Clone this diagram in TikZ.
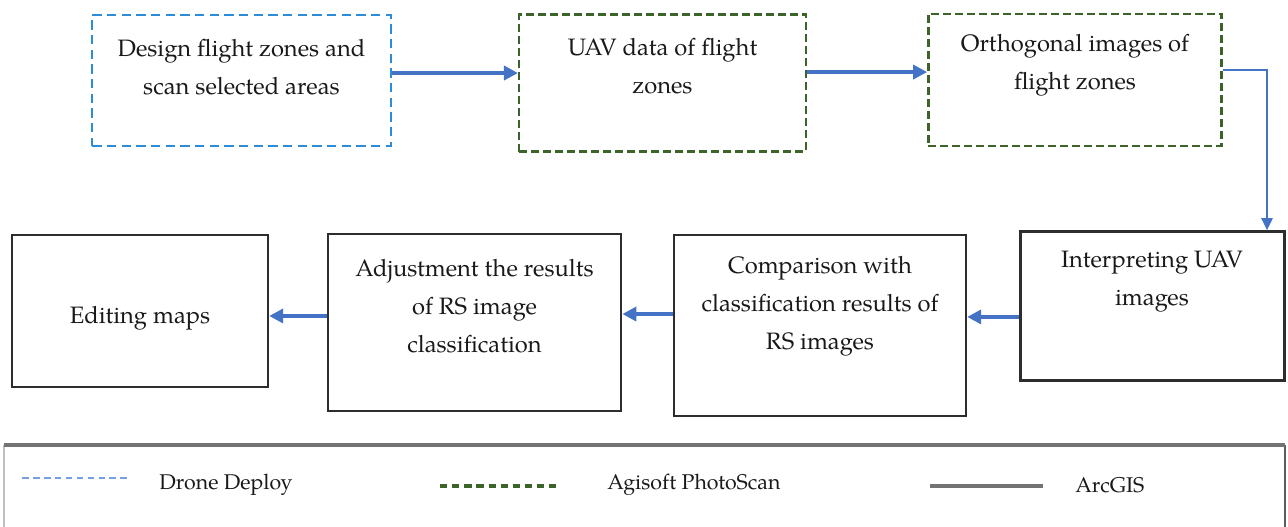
\documentclass[tikz,border=0pt]{standalone}
\usepackage{fontspec}
\setmainfont{TeX Gyre Pagella}
\usetikzlibrary{arrows.meta}
\definecolor{ddblue}{RGB}{45,140,215}
\definecolor{agreen}{RGB}{60,100,40}
\definecolor{arrblue}{RGB}{68,114,196}
\definecolor{legblue}{RGB}{120,160,225}
\definecolor{edge}{RGB}{45,45,45}
\definecolor{leggray}{RGB}{115,115,115}
\tikzset{
  box/.style={draw=edge, line width=1.8pt, rectangle, inner sep=0pt},
  ddbox/.style={draw=ddblue, line width=1.8pt, dash pattern=on 7pt off 4pt, rectangle, inner sep=0pt},
  agbox/.style={draw=agreen, line width=1.8pt, dash pattern=on 6pt off 3pt, rectangle, inner sep=0pt},
  txt/.style={align=center, font=\fontsize{17.8}{28.5}\selectfont, text=black!90, inner sep=0pt},
  arr/.style={draw=arrblue, line width=2.6pt, -{Triangle[length=10.5pt,width=10.5pt]}},
  arrthin/.style={draw=arrblue, line width=1.3pt, -{Triangle[length=9pt,width=8.5pt]}},
  legtxt/.style={font=\fontsize{16}{18}\selectfont, text=black!90, inner sep=0pt, anchor=west},
}
\begin{document}
\begin{tikzpicture}[x=0.75pt,y=-0.75pt]
\useasboundingbox (0,0) rectangle (1288,527);
% top row
\node[ddbox, minimum width=224pt, minimum height=98pt] (b1) at (241.5,80.5) {};
\node[agbox, minimum width=215pt, minimum height=103pt] (b2) at (662.5,83) {};
\node[agbox, minimum width=220pt, minimum height=99pt] (b3) at (1075,80) {};
% bottom row
\node[box, minimum width=198pt, minimum height=112pt] (b4) at (1152.5,306) {};
\node[box, minimum width=219pt, minimum height=136pt] (b5) at (820,325.5) {};
\node[box, minimum width=220pt, minimum height=133pt] (b6) at (474.5,322.5) {};
\node[box, minimum width=192pt, minimum height=114pt] (b7) at (140,311) {};
% texts
\node[txt] (t1) at (241.5,67) {Design flight zones and\\scan selected areas};
\node[txt] (t2) at (662.5,66) {UAV data of flight\\zones};
\node[txt] (t3) at (1075,65) {Orthogonal images of\\flight zones};
\node[txt] (t4) at (1152,282) {Interpreting UAV\\images};
\node[txt] (t5) at (820,306) {Comparison with\\classification results of\\RS images};
\node[txt] (t6) at (474.5,306) {Adjustment the results\\of RS image\\classification};
\node[txt] (t7) at (140,318) {Editing maps};
% connectors
\draw[arr] ([yshift=5.6pt]b1.east) -- ([yshift=5.6pt]b1.east -| b2.west);
\draw[arr] ([yshift=8.2pt]b2.east) -- ([yshift=8.2pt]b2.east -| b3.west);
\coordinate (c3) at (1267,70);
\draw[arrthin] ([yshift=7.5pt]b3.east) -- (c3) -- (c3 |- b4.north);
\draw[arr] ([yshift=-8.2pt]b4.west) -- ([yshift=-8.2pt]b4.west -| b5.east);
\draw[arr] ([yshift=8.6pt]b5.west) -- ([yshift=8.6pt]b5.west -| b6.east);
\draw[arr] ([yshift=4.9pt]b6.west) -- ([yshift=4.9pt]b6.west -| b7.east);
% legend
\coordinate (lgtl) at (4,445);
\coordinate (lgtr) at (1285,445);
\coordinate (lgbl) at (4,527);
\coordinate (lgbr) at (1285,527);
\draw[black!25, line width=0.8pt] (lgtl) -- (lgbl);
\draw[leggray!80!black, line width=1.2pt] (lgtr) -- (lgbr);
\draw[leggray, line width=2.6pt] (lgtl) -- (lgtr);
\coordinate (l1a) at (22,478); \coordinate (l1b) at (130,478);
\draw[legblue, line width=1.8pt, dash pattern=on 5pt off 3.2pt] (l1a) -- (l1b);
\node[legtxt] (lt1) at (159,485) {Drone Deploy};
\coordinate (l2a) at (440,486); \coordinate (l2b) at (556,486);
\draw[agreen, line width=2.4pt, dash pattern=on 5.5pt off 3.6pt] (l2a) -- (l2b);
\node[legtxt] (lt2) at (607,485) {Agisoft PhotoScan};
\coordinate (l3a) at (930,486); \coordinate (l3b) at (1043,486);
\draw[leggray, line width=2.4pt] (l3a) -- (l3b);
\node[legtxt] (lt3) at (1075,485) {ArcGIS};
\end{tikzpicture}
\end{document}
